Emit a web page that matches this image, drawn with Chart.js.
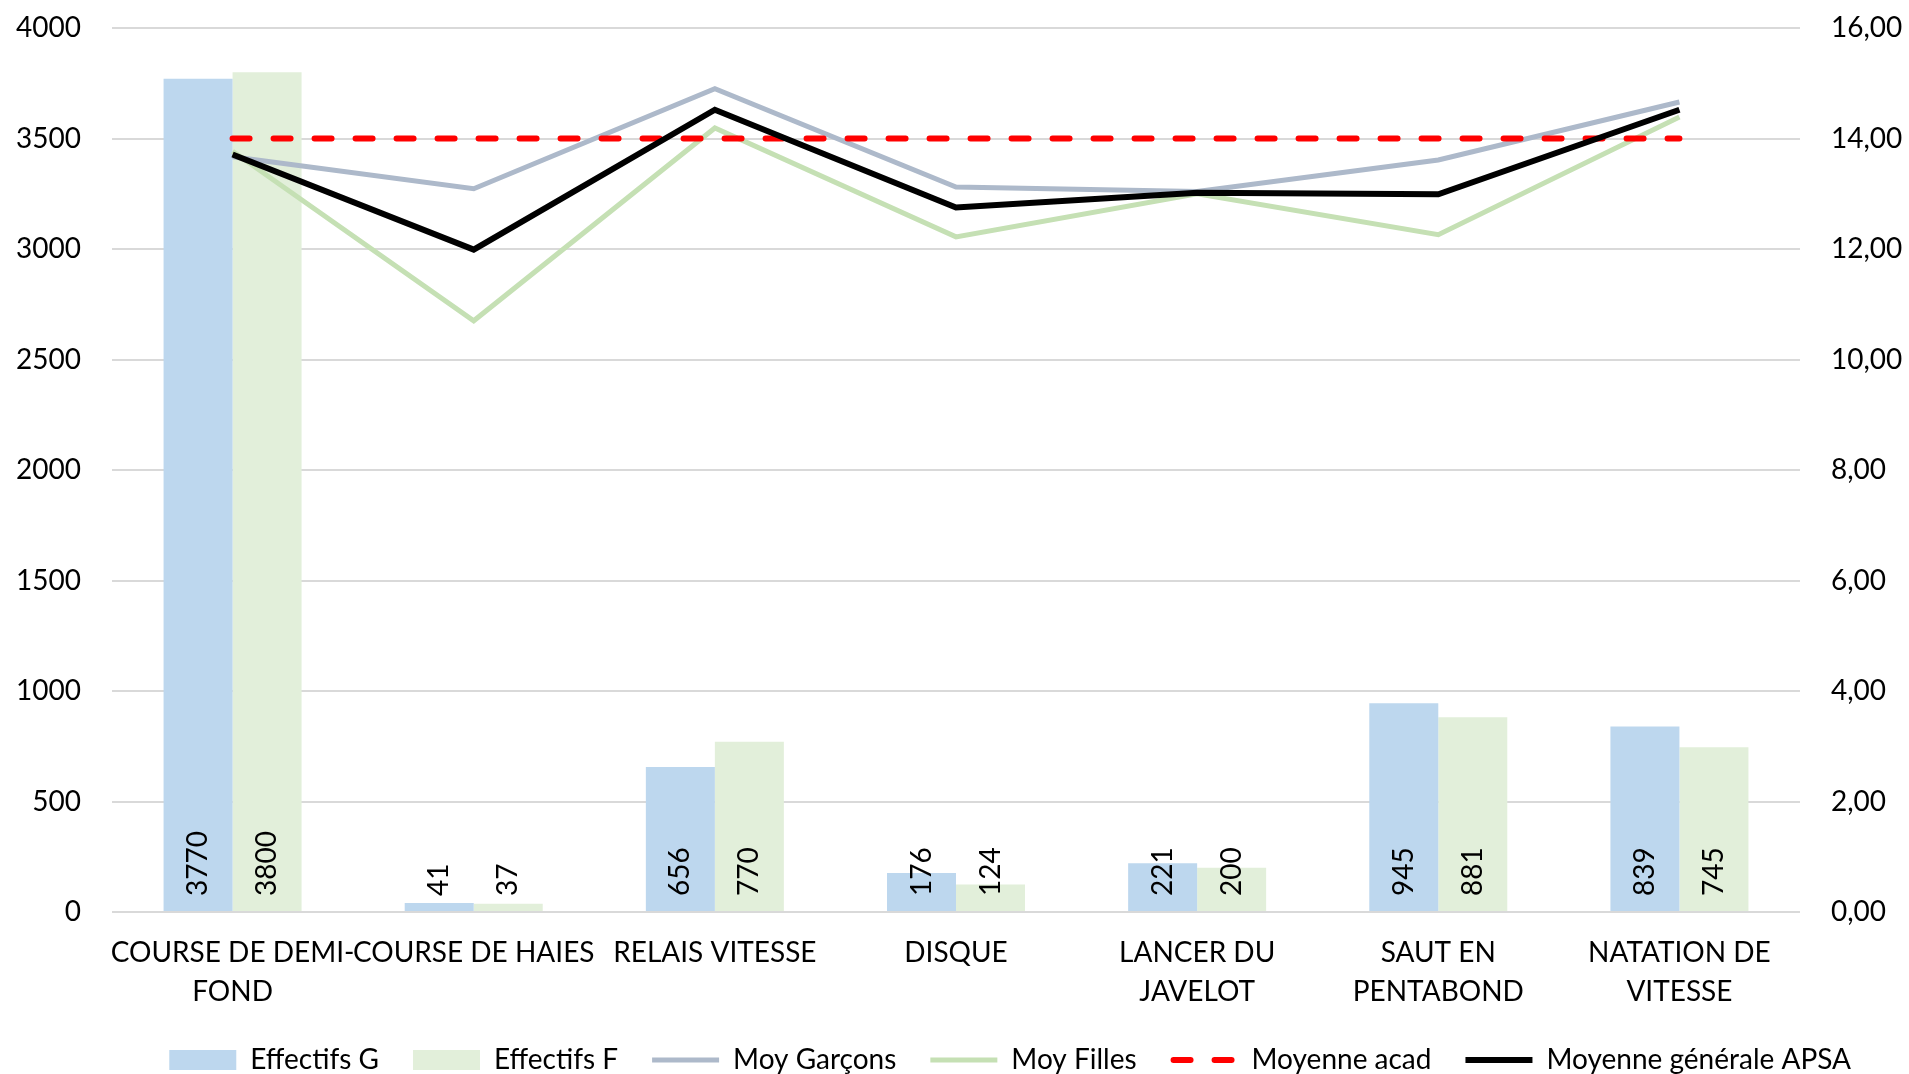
<!doctype html>
<html lang="fr">
<head>
  <meta charset="utf-8">
  <title>Effectifs et moyennes par APSA</title>
  <script src="https://cdn.jsdelivr.net/npm/chart.js"></script>
  <style>
    html, body { margin: 0; padding: 0; background: #fff; }
    #chart { display: block; }
  </style>
</head>
<body>
  <canvas id="chart" width="1909" height="1074"></canvas>

  <script>
    // données
    const categories = [
      ['COURSE DE DEMI-', 'FOND'],
      'COURSE DE HAIES',
      'RELAIS VITESSE',
      'DISQUE',
      ['LANCER DU', 'JAVELOT'],
      ['SAUT EN', 'PENTABOND'],
      ['NATATION DE', 'VITESSE']
    ];
    const effectifsG = [3770, 41, 656, 176, 221, 945, 839];
    const effectifsF = [3800, 37, 770, 124, 200, 881, 745];
    const moyGarcons = [13.67, 13.09, 14.90, 13.12, 13.04, 13.61, 14.66];
    const moyFilles = [13.77, 10.70, 14.19, 12.22, 13.00, 12.26, 14.39];
    const moyAcad = [14, 14, 14, 14, 14, 14, 14];
    const moyGenerale = [13.71, 11.99, 14.52, 12.75, 13.02, 12.99, 14.52];
    const leftTicks = [0, 500, 1000, 1500, 2000, 2500, 3000, 3500, 4000];
    const rightTicks = [0, 2, 4, 6, 8, 10, 12, 14, 16];

    const FONT = 'Lato';
    const TEXT = '#000';
    const GRID = '#d9d9d9';

    // étiquettes verticales au pied des barres
    const barLabels = {
      id: 'barLabels',
      afterDatasetsDraw(chart) {
        const ctx = chart.ctx;
        ctx.save();
        ctx.font = '28px ' + FONT;
        ctx.fillStyle = TEXT;
        ctx.textAlign = 'left';
        ctx.textBaseline = 'middle';
        [0, 1].forEach(function (di) {
          const meta = chart.getDatasetMeta(di);
          const values = chart.data.datasets[di].data;
          meta.data.forEach(function (bar, i) {
            ctx.save();
            ctx.translate(bar.x, bar.base - 15);
            ctx.rotate(-Math.PI / 2);
            ctx.fillText(String(values[i]), 0, 0);
            ctx.restore();
          });
        });
        ctx.restore();
      }
    };

    // la légende s'arrête un peu avant le bord droit
    const legendShift = {
      id: 'legendShift',
      afterLayout(chart) {
        if (chart.legend) chart.legend.right = chart.width - 24;
      }
    };

    // largeur fixe des axes verticaux, sans marge haute/basse ajoutée
    function fixAxis(width) {
      return function (scale) {
        scale.width = width;
        scale.paddingTop = 0;
        scale.paddingBottom = 0;
      };
    }

    const lineDefaults = { type: 'line', yAxisID: 'y1', pointRadius: 0, pointHoverRadius: 0, borderWidth: 5, tension: 0, fill: false };

    new Chart(document.getElementById('chart'), {
      data: {
        labels: categories,
        datasets: [
          { type: 'bar', label: 'Effectifs G', data: effectifsG, yAxisID: 'y', backgroundColor: '#bdd7ee', borderWidth: 0, order: 10 },
          { type: 'bar', label: 'Effectifs F', data: effectifsF, yAxisID: 'y', backgroundColor: '#e2efda', borderWidth: 0, order: 11 },
          Object.assign({}, lineDefaults, { label: 'Moy Garçons', data: moyGarcons, borderColor: '#adb9ca', backgroundColor: '#adb9ca', order: 4 }),
          Object.assign({}, lineDefaults, { label: 'Moy Filles', data: moyFilles, borderColor: '#c5e0b4', backgroundColor: '#c5e0b4', order: 3 }),
          Object.assign({}, lineDefaults, { label: 'Moyenne acad', data: moyAcad, borderColor: '#ff0000', backgroundColor: '#ff0000', borderWidth: 6, borderDash: [17, 24], borderCapStyle: 'round', order: 2 }),
          Object.assign({}, lineDefaults, { label: 'Moyenne générale APSA', data: moyGenerale, borderColor: '#000000', backgroundColor: '#000000', borderWidth: 6, order: 1 })
        ]
      },
      options: {
        responsive: false,
        animation: false,
        layout: { padding: { top: 28, right: 0, bottom: -10, left: 0 } },
        datasets: {
          bar: { categoryPercentage: 0.5723, barPercentage: 1 }
        },
        scales: {
          x: {
            grid: { display: false, drawTicks: false },
            border: { display: false },
            ticks: {
              color: TEXT, font: { family: FONT, size: 28, lineHeight: 1.4 },
              padding: 21, maxRotation: 0, minRotation: 0, autoSkip: false
            },
            afterFit: function (scale) { scale.height = 100; }
          },
          y: {
            position: 'left', min: 0, max: 4000,
            grid: { color: GRID, lineWidth: 2, drawTicks: false },
            border: { display: false },
            afterBuildTicks: function (scale) { scale.ticks = leftTicks.map(function (v) { return { value: v }; }); },
            ticks: {
              color: TEXT, font: { family: FONT, size: 28 }, padding: 31,
              callback: function (v) { return String(v); }
            },
            afterFit: fixAxis(112)
          },
          y1: {
            position: 'right', min: 0, max: 16,
            grid: { drawOnChartArea: false, drawTicks: false },
            border: { display: false },
            afterBuildTicks: function (scale) { scale.ticks = rightTicks.map(function (v) { return { value: v }; }); },
            ticks: {
              color: TEXT, font: { family: FONT, size: 28 }, padding: 31,
              callback: function (v) { return v.toFixed(2).replace('.', ','); }
            },
            afterFit: fixAxis(109)
          }
        },
        plugins: {
          legend: {
            position: 'bottom',
            align: 'end',
            labels: {
              color: TEXT,
              font: { family: FONT, size: 28 },
              usePointStyle: true,
              pointStyleWidth: 67,
              boxHeight: 20,
              padding: 34,
              sort: function (a, b) { return a.datasetIndex - b.datasetIndex; },
              generateLabels: function (chart) {
                const items = Chart.defaults.plugins.legend.labels.generateLabels(chart);
                items.forEach(function (it) {
                  const ds = chart.data.datasets[it.datasetIndex];
                  if (ds.type === 'bar') {
                    it.pointStyle = 'rect';
                    it.lineWidth = 0;
                    it.strokeStyle = ds.backgroundColor;
                  } else {
                    it.pointStyle = 'line';
                    it.lineWidth = ds.borderWidth;
                    it.strokeStyle = ds.borderColor;
                    it.lineDash = ds.borderDash || [];
                    it.lineDashOffset = ds.borderDash ? -3 : 0;
                    it.lineCap = ds.borderCapStyle || 'butt';
                  }
                });
                return items;
              }
            }
          },
          tooltip: { enabled: false }
        }
      },
      plugins: [barLabels, legendShift]
    });
  </script>
</body>
</html>
